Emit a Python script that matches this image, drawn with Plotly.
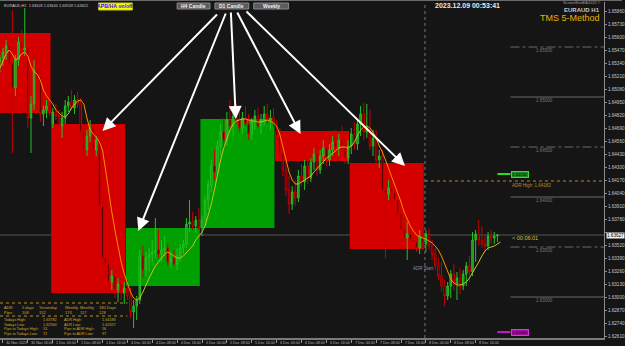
import plotly.graph_objects as go

# ---------------- DATA ----------------
bar_index = list(range(7, 168))  # H1 bar number counted from 30 Nov 00:00 (weekend removed)

opens = [1.6535,1.6539,1.6545,1.6551,1.6533,1.6509,1.6537,1.6555,1.6547,1.6549,1.6479,1.6493,1.6527,1.6519,1.6483,1.6487,1.6491,
         1.6473,1.6485,1.6481,1.6471,1.6479,1.6491,1.6495,1.6489,1.6497,1.6493,1.6465,1.6447,1.6461,1.6469,1.6447,1.6457,1.6391,1.6339,1.6333,1.6315,1.6321,1.6307,1.6313,1.6304,
         1.6309,1.6301,1.6285,1.6291,1.6297,1.6341,1.6327,1.6339,1.6343,1.6345,1.6347,1.6343,1.6347,1.6349,1.6335,1.6339,1.6333,1.6341,1.6349,1.6353,1.6373,1.6375,1.6371,1.6377,
         1.6369,1.6377,1.6397,1.6412,1.6431,1.6425,1.6451,1.6465,1.6457,1.6477,1.6471,1.6481,1.6477,1.6469,1.6479,1.6473,1.6463,1.6475,1.6481,1.6471,1.6477,1.6483,1.6477,1.6479,
         1.6466,1.6461,1.6443,1.6427,1.6407,1.6393,1.6405,1.6399,1.6421,1.6415,1.6431,1.6419,1.6435,1.6443,1.6427,1.6441,1.6449,1.6437,1.6447,1.6455,1.6449,1.6457,1.6451,1.6439,
         1.6451,1.6463,1.6453,1.6473,1.6483,1.6465,1.6469,1.6451,1.6459,1.6437,1.6441,1.6407,1.6403,1.6409,1.6405,1.6397,1.6383,1.6367,1.6359,1.6363,1.6357,1.6355,1.6349,1.6361,
         1.6353,1.6363,1.6351,1.6343,1.6331,1.6321,1.6311,1.6301,1.6311,1.6323,1.6313,1.6319,1.6311,1.6323,1.6331,1.6325,1.6357,1.6363,1.6357,1.6353,1.6351,1.6361,1.6359,1.6361]
highs = [1.6542,1.6549,1.6557,1.6561,1.6587,1.6542,1.6560,1.6567,1.6589,1.6553,1.6501,1.6537,1.6545,1.6527,1.6491,1.6497,1.6501,
         1.6489,1.6493,1.6487,1.6485,1.6497,1.6501,1.6507,1.6502,1.6505,1.6499,1.6471,1.6467,1.6477,1.6473,1.6461,1.6469,1.6397,1.6347,1.6339,1.6327,1.6329,1.6319,1.6321,1.6315,
         1.6317,1.6309,1.6297,1.6301,1.6347,1.6351,1.6345,1.6349,1.6357,1.6379,1.6367,1.6357,1.6361,1.6353,1.6345,1.6347,1.6349,1.6353,1.6357,1.6379,1.6397,1.6385,1.6381,1.6389,
         1.6381,1.6401,1.6417,1.6437,1.6447,1.6457,1.6473,1.6479,1.6485,1.6497,1.6487,1.6493,1.6489,1.6485,1.6491,1.6483,1.6479,1.6487,1.6489,1.6483,1.6491,1.6493,1.6487,1.6489,
         1.6477,1.6469,1.6457,1.6437,1.6421,1.6411,1.6417,1.6427,1.6433,1.6437,1.6441,1.6439,1.6449,1.6451,1.6447,1.6457,1.6459,1.6453,1.6461,1.6467,1.6463,1.6471,1.6465,1.6457,
         1.6469,1.6475,1.6479,1.6491,1.6494,1.6493,1.6487,1.6467,1.6467,1.6447,1.6447,1.6419,1.6417,1.6421,1.6411,1.6401,1.6389,1.6375,1.6375,1.6369,1.6363,1.6359,1.6367,1.6369,
         1.6367,1.6369,1.6357,1.6349,1.6339,1.6335,1.6317,1.6315,1.6327,1.6333,1.6325,1.6329,1.6327,1.6335,1.6341,1.6365,1.6367,1.6377,1.6371,1.6361,1.6365,1.6367,1.6365,1.6363]
lows = [1.6525,1.6531,1.6537,1.6527,1.6444,1.6501,1.6531,1.6539,1.6541,1.6469,1.6444,1.6487,1.6513,1.6475,1.6471,1.6479,1.6481,
        1.6469,1.6477,1.6467,1.6459,1.6473,1.6485,1.6487,1.6483,1.6489,1.6457,1.6434,1.6441,1.6455,1.6439,1.6441,1.6385,1.6333,1.6322,1.6309,1.6307,1.6299,1.6295,1.6297,1.6293,
        1.6297,1.6279,1.6269,1.6277,1.6293,1.6319,1.6321,1.6325,1.6335,1.6339,1.6339,1.6335,1.6341,1.6331,1.6329,1.6331,1.6327,1.6335,1.6343,1.6349,1.6365,1.6367,1.6365,1.6367,
        1.6361,1.6371,1.6387,1.6405,1.6417,1.6421,1.6441,1.6449,1.6451,1.6467,1.6461,1.6473,1.6465,1.6463,1.6471,1.6457,1.6457,1.6467,1.6469,1.6463,1.6471,1.6473,1.6467,1.6469,
        1.6457,1.6437,1.6421,1.6401,1.6383,1.6387,1.6391,1.6395,1.6411,1.6407,1.6413,1.6415,1.6427,1.6421,1.6423,1.6433,1.6431,1.6431,1.6441,1.6445,1.6441,1.6447,1.6433,1.6433,
        1.6443,1.6447,1.6447,1.6461,1.6457,1.6459,1.6447,1.6441,1.6431,1.6429,1.6401,1.6339,1.6397,1.6387,1.6393,1.6379,1.6363,1.6353,1.6337,1.6353,1.6351,1.6345,1.6343,1.6347,
        1.6345,1.6347,1.6337,1.6327,1.6317,1.6305,1.6291,1.6297,1.6299,1.6307,1.6297,1.6303,1.6307,1.6311,1.6315,1.6321,1.6335,1.6351,1.6349,1.6345,1.6347,1.6353,1.6353,1.6355]
closes = [1.6539,1.6545,1.6551,1.6533,1.6509,1.6537,1.6555,1.6547,1.6549,1.6479,1.6493,1.6527,1.6519,1.6483,1.6487,1.6491,1.6485,
          1.6485,1.6481,1.6471,1.6479,1.6491,1.6495,1.6489,1.6497,1.6493,1.6465,1.6447,1.6461,1.6469,1.6447,1.6457,1.6391,1.6339,1.6333,1.6315,1.6321,1.6307,1.6313,1.6304,1.6309,
          1.6301,1.6285,1.6291,1.6297,1.6341,1.6327,1.6339,1.6343,1.6345,1.6347,1.6343,1.6347,1.6349,1.6335,1.6339,1.6333,1.6341,1.6349,1.6353,1.6373,1.6375,1.6371,1.6377,1.6369,
          1.6377,1.6397,1.6412,1.6431,1.6425,1.6451,1.6465,1.6457,1.6477,1.6471,1.6481,1.6477,1.6469,1.6479,1.6473,1.6463,1.6475,1.6481,1.6471,1.6477,1.6483,1.6477,1.6479,1.6475,
          1.6461,1.6443,1.6427,1.6407,1.6393,1.6405,1.6399,1.6421,1.6415,1.6431,1.6419,1.6435,1.6443,1.6427,1.6441,1.6449,1.6437,1.6447,1.6455,1.6449,1.6457,1.6451,1.6439,1.6451,
          1.6463,1.6453,1.6473,1.6483,1.6465,1.6469,1.6451,1.6459,1.6437,1.6441,1.6407,1.6403,1.6409,1.6405,1.6397,1.6383,1.6367,1.6359,1.6363,1.6357,1.6355,1.6349,1.6361,1.6353,
          1.6363,1.6351,1.6343,1.6331,1.6321,1.6311,1.6301,1.6311,1.6323,1.6313,1.6319,1.6311,1.6323,1.6331,1.6325,1.6357,1.6363,1.6357,1.6353,1.6351,1.6361,1.6359,1.6361,1.6362]

ma_index = list(range(7, 169))
ma_values = [1.6529,1.6537,1.6543,1.6547,1.6543,1.6537,1.6539,1.6543,1.6545,1.6541,1.6531,1.6525,1.6523,1.6517,1.6507,1.6501,1.6497,
             1.6493,1.6487,1.6484,1.6481,1.6480,1.6483,1.6489,1.6493,1.6496,1.6497,1.6493,1.6479,1.6467,1.6463,1.6460,1.6455,1.6447,1.6427,1.6405,1.6385,1.6367,1.6351,1.6335,1.6323,
             1.6313,1.6305,1.6299,1.6297,1.6299,1.6305,1.6313,1.6319,1.6325,1.6331,1.6335,1.6339,1.6343,1.6345,1.6343,1.6341,1.6339,1.6339,1.6341,1.6344,1.6347,1.6351,1.6357,1.6361,
             1.6365,1.6371,1.6381,1.6393,1.6407,1.6423,1.6437,1.6449,1.6459,1.6467,1.6473,1.6476,1.6477,1.6478,1.6478,1.6477,1.6476,1.6476,1.6475,1.6475,1.6476,1.6477,1.6476,1.6474,
             1.6471,1.6463,1.6451,1.6437,1.6425,1.6417,1.6413,1.6413,1.6415,1.6417,1.6419,1.6421,1.6425,1.6429,1.6432,1.6435,1.6439,1.6441,1.6444,1.6447,1.6449,1.6450,1.6450,1.6449,
             1.6451,1.6455,1.6461,1.6467,1.6470,1.6471,1.6469,1.6465,1.6459,1.6451,1.6445,1.6437,1.6429,1.6421,1.6413,1.6405,1.6395,1.6385,1.6377,1.6371,1.6366,1.6362,1.6360,1.6359,
             1.6358,1.6356,1.6354,1.6351,1.6347,1.6341,1.6333,1.6325,1.6318,1.6314,1.6312,1.6312,1.6313,1.6315,1.6319,1.6324,1.6329,1.6335,1.6341,1.6346,1.6349,1.6350,1.6351,1.6353,1.6355]

# daily (D1) candles drawn as boxes
d1_first_bar = [0, 24, 48, 72, 96, 120]
d1_open = [1.6564, 1.6473, 1.6311, 1.6369, 1.6466, 1.6434]
d1_close = [1.6484, 1.6304, 1.6369, 1.6478, 1.6436, 1.6348]

price_ticks = [1.62610,1.62740,1.62870,1.63000,1.63130,1.63260,1.63390,1.63520,1.63650,1.63780,1.63910,1.64040,1.64170,
               1.64300,1.64430,1.64560,1.64690,1.64820,1.64950,1.65080,1.65210,1.65340,1.65470,1.65600,1.65730,1.65860]
time_tick_bars = [8,16,24,32,40,48,56,64,72,80,88,96,104,112,120,128,136,144,152,160]
time_tick_labels = ["30 Nov 2023","30 Nov 16:00","1 Dec 00:00","1 Dec 08:00","1 Dec 16:00","4 Dec 00:00","4 Dec 08:00",
                    "4 Dec 16:00","5 Dec 00:00","5 Dec 08:00","5 Dec 16:00","6 Dec 00:00","6 Dec 08:00","6 Dec 16:00",
                    "7 Dec 00:00","7 Dec 08:00","7 Dec 16:00","8 Dec 00:00","8 Dec 08:00","8 Dec 16:00"]

round_levels = [1.65500, 1.65000, 1.64500, 1.64000, 1.63500, 1.63000]
bid_price = 1.63620
bid_label = "1.63627"
adr_high_line = 1.64160
adr_high_text = "ADR High: 1.64183"
green_level = 1.64230
magenta_level = 1.62650
day_separator_bar = 143.7
adr_start_bar = 143.3

table_rows = [
    ["ADR:", "5 days", "Yesterday", "Weekly", "Monthly", "180 Days"],
    ["Pips:", "108", "152", "174", "117", "128"],
]
table_rows2 = [
    ["Todays High:", "1.63782", "ADR High:", "1.64183"],
    ["Todays Low:", "1.62904", "ADR Low:", "1.62657"],
    ["Pips to Todays High:", "13", "Pips to ADR High:", "56"],
    ["Pips to Todays Low:", "72", "Pips to ADR Low:", "97"],
]

# ---------------- LAYOUT HELPERS ----------------
W, H = 625, 346
ML, MR, MT, MB = 0, 18, 2, 8
PW, PH = W - ML - MR, H - MT - MB
def px(x):
    return (x - ML) / PW
def py(y):
    return (H - MB - y) / PH

BG = "#151515"
FONT = "Liberation Sans"

fig = go.Figure()

# daily boxes
shapes = []
for fb, o, c in zip(d1_first_bar, d1_open, d1_close):
    col = "#00a000" if c > o else "#d40000"
    shapes.append(dict(type="rect", xref="x", yref="y", x0=fb - 0.5, x1=fb + 23.3, y0=min(o, c), y1=max(o, c),
                       fillcolor=col, line=dict(width=0), layer="below"))

# bid line across chart
shapes.append(dict(type="line", xref="paper", yref="y", x0=0, x1=1, y0=bid_price, y1=bid_price,
                   line=dict(color="#555555", width=1), layer="below"))
# day separator
shapes.append(dict(type="line", xref="x", yref="paper", x0=day_separator_bar, x1=day_separator_bar, y0=0, y1=1,
                   line=dict(color="#777777", width=1, dash="dot"), layer="below"))
# round levels
x_lvl0 = 171.2
for i, lv in enumerate(round_levels):
    solid = abs(round(lv * 100) - lv * 100) < 1e-6
    shapes.append(dict(type="line", xref="x", yref="y", x0=x_lvl0, x1=201.3, y0=lv, y1=lv,
                       line=dict(color="#6a6a6a", width=1, dash="solid" if solid else "dashdot")))
# ADR high dotted
shapes.append(dict(type="line", xref="x", yref="y", x0=day_separator_bar, x1=201.3, y0=adr_high_line, y1=adr_high_line,
                   line=dict(color="#b8862b", width=1, dash="dot")))
# green / magenta marks
shapes.append(dict(type="line", xref="x", yref="y", x0=167, x1=171.2, y0=green_level, y1=green_level,
                   line=dict(color="#22dd22", width=2)))
shapes.append(dict(type="line", xref="x", yref="y", x0=167, x1=171.2, y0=magenta_level, y1=magenta_level,
                   line=dict(color="#d010d0", width=2)))
# top border
shapes.append(dict(type="line", xref="paper", yref="paper", x0=0, x1=(W - ML) / PW, y0=py(0.5), y1=py(0.5),
                   line=dict(color="#6a6a6a", width=1)))
# table dotted lines
for yy in (303, 316):
    shapes.append(dict(type="line", xref="paper", yref="paper", x0=0, x1=px(128), y0=py(yy), y1=py(yy),
                       line=dict(color="#b09020", width=1, dash="dot")))

annotations = []

# buttons
def button(x0, x1, y0, y1, fill, border, text, tcolor, size=5):
    shapes.append(dict(type="rect", xref="paper", yref="paper", x0=px(x0), x1=px(x1), y0=py(y1), y1=py(y0),
                       fillcolor=fill, line=dict(color=border, width=1)))
    annotations.append(dict(xref="paper", yref="paper", x=px((x0 + x1) / 2), y=py((y0 + y1) / 2), text="<b>%s</b>" % text,
                            showarrow=False, font=dict(family=FONT, size=size, color=tcolor), xanchor="center", yanchor="middle"))

button(99, 133, 3, 10, "#ffff00", "#c8c800", "APB/HA on/off", "#1010ff", 5.2)
button(178, 211, 3, 9, "#5c5c5c", "#8a8a8a", "H4 Candle", "#f0f0f0")
button(216, 250, 3, 9, "#5c5c5c", "#8a8a8a", "D1 Candle", "#f0f0f0")
button(255, 290, 3, 9, "#5c5c5c", "#8a8a8a", "Weekly", "#f0f0f0")

# arrows (tail -> head in pixel positions)
arrows = [((219, 13), (103, 131)), ((227, 12), (139, 231)), ((232, 11), (237, 119)),
          ((238, 11), (302, 134)), ((247, 10), (407, 166))]
for (tx, ty), (hx, hy) in arrows:
    annotations.append(dict(xref="paper", yref="paper", x=px(hx), y=py(hy), ax=tx - hx, ay=ty - hy,
                            axref="pixel", ayref="pixel", text="", showarrow=True, arrowhead=2, arrowsize=1.3,
                            arrowwidth=2, arrowcolor="#ffffff"))

def txt(x, y, s, size=5, color="#c0c0c0", anchor="left", bold=False, ya="middle"):
    annotations.append(dict(xref="paper", yref="paper", x=px(x), y=py(y), text=("<b>%s</b>" % s) if bold else s,
                            showarrow=False, font=dict(family=FONT, size=size, color=color), xanchor=anchor, yanchor=ya))

txt(2, 5.5, "EURAUD,H1  1.63626 1.63640 1.63559 1.63622", 3.9, "#c8c8c8")
txt(435, 6, "2023.12.09 00:53:41", 7, "#e8e8e8", bold=True)
txt(605, 3.5, "ScreenShotEA2023 ©", 3.8, "#a0a0a0", anchor="right")
txt(605, 9.5, "EURAUD H1", 6, "#c8c8c8", anchor="right", bold=True)
txt(605, 18, "TMS 5-Method", 9, "#e6b400", anchor="right")

# round level labels
for lv in round_levels:
    annotations.append(dict(xref="x", yref="y", x=182, y=lv, yshift=-3, text="%.5f" % lv, showarrow=False,
                            font=dict(family=FONT, size=4.5, color="#7a7a7a"), xanchor="center", yanchor="middle"))
annotations.append(dict(xref="x", yref="y", x=171.0, y=adr_high_line, yshift=-4, text=adr_high_text, showarrow=False,
                        font=dict(family=FONT, size=4.5, color="#c08a2a"), xanchor="left", yanchor="middle"))
annotations.append(dict(xref="x", yref="y", x=171.3, y=green_level, text="%.5f" % green_level, showarrow=False,
                        font=dict(family=FONT, size=4.2, color="#0a0a0a"), bgcolor="#1c8a1c", bordercolor="#33dd33",
                        borderwidth=1, borderpad=0, xanchor="left", yanchor="middle"))
annotations.append(dict(xref="x", yref="y", x=171.3, y=magenta_level, text="%.5f" % magenta_level, showarrow=False,
                        font=dict(family=FONT, size=4.2, color="#0a0a0a"), bgcolor="#a010a0", bordercolor="#e030e0",
                        borderwidth=1, borderpad=0, xanchor="left", yanchor="middle"))
annotations.append(dict(xref="x", yref="y", x=171.2, y=bid_price, yshift=-3, text="< 00:06:01", showarrow=False,
                        font=dict(family=FONT, size=5.5, color="#d8c040"), xanchor="left", yanchor="middle"))
annotations.append(dict(xref="x", yref="y", x=adr_start_bar, y=1.6329, text="ADR Start", showarrow=False,
                        font=dict(family=FONT, size=4.5, color="#8894a4"), xanchor="center", yanchor="middle"))
# bid label on axis
annotations.append(dict(xref="paper", yref="y", x=1 + 2 / PW, y=bid_price, text=bid_label, showarrow=False,
                        font=dict(family=FONT, size=4.6, color="#000000"), bgcolor="#f0f0f0", borderpad=0,
                        xanchor="left", yanchor="middle"))

# time labels
for b, lab in zip(time_tick_bars, time_tick_labels):
    annotations.append(dict(xref="x", yref="paper", x=b, y=py(343), xshift=1.5, text=lab, showarrow=False,
                            font=dict(family=FONT, size=3.7, color="#b4b4b4"), xanchor="left", yanchor="middle"))

# table
cols1 = [2, 20, 37, 63, 78, 97]
for r, yy in zip(table_rows, (307.5, 312)):
    for c, s in zip(cols1, r):
        txt(c, yy, s, 4.0, "#d0a828")
cols2 = [2, 41, 62, 100]
for r, yy in zip(table_rows2, (320, 324.5, 329, 333.5)):
    for c, s in zip(cols2, r):
        txt(c, yy, s, 3.8, "#d0a828")

# candles
fig.add_trace(go.Candlestick(x=bar_index, open=opens, high=highs, low=lows, close=closes,
                             increasing=dict(line=dict(color="#25c025", width=1), fillcolor="#139013"),
                             decreasing=dict(line=dict(color="#c80000", width=1), fillcolor="#000000"),
                             whiskerwidth=0, showlegend=False, hoverinfo="skip"))

# moving average coloured by direction
runs = []
cur = [0]
cur_dir = None
for k in range(1, len(ma_values)):
    d = ma_values[k] >= ma_values[k - 1]
    if cur_dir is None or d == cur_dir:
        cur.append(k)
        cur_dir = d
    else:
        runs.append((cur_dir, cur))
        cur = [k - 1, k]
        cur_dir = d
runs.append((cur_dir, cur))
for up, idxs in runs:
    fig.add_trace(go.Scatter(x=[ma_index[k] for k in idxs], y=[ma_values[k] for k in idxs], mode="lines",
                             line=dict(color="#c8c020" if up else "#ff8c00", width=1), showlegend=False,
                             hoverinfo="skip"))

# price-axis labels (the one under the bid box is hidden by it)
tick_text = ["" if abs(p - bid_price) < 0.0004 else "%.5f" % p for p in price_ticks]

fig.update_layout(
    width=W, height=H, margin=dict(l=ML, r=MR, t=MT, b=MB),
    paper_bgcolor=BG, plot_bgcolor=BG, showlegend=False,
    shapes=shapes, annotations=annotations,
    xaxis=dict(range=[7.04, 201.28], showgrid=False, zeroline=False, showline=True, linecolor="#7a7a7a",
               linewidth=2, tickvals=time_tick_bars, ticks="outside", ticklen=3, tickcolor="#9a9a9a",
               showticklabels=False, rangeslider=dict(visible=False), fixedrange=True),
    yaxis=dict(range=[1.6259, 1.6595], side="right", showgrid=False, zeroline=False, showline=True,
               linecolor="#8a8a8a", tickvals=price_ticks, ticktext=tick_text,
               ticks="outside", ticklen=2, tickcolor="#8a8a8a",
               tickfont=dict(family=FONT, size=4.6, color="#c8c8c8"), fixedrange=True),
)

fig.write_html("out.html")
